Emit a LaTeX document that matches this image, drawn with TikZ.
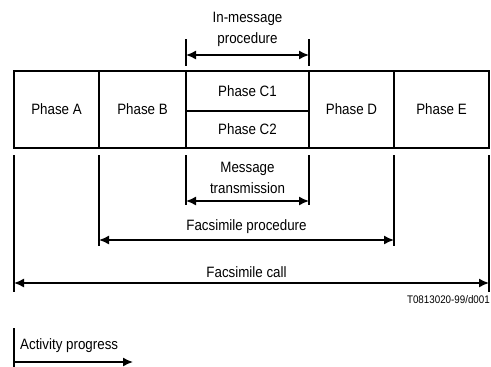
\documentclass[tikz,border=0pt]{standalone}
\usepackage{fontspec}
\setmainfont[FakeStretch=0.89]{Liberation Sans}
\usetikzlibrary{arrows.meta}
\usetikzlibrary{positioning}

\begin{document}
\begin{tikzpicture}[x=1pt,y=-1pt,
	phase/.style={draw,line width=1.5pt,outer sep=0pt,inner sep=0pt,minimum height=77pt,font=\fontsize{15}{21}\selectfont},
	ext/.style={line width=1.5pt},
	dim/.style={line width=1.5pt,{Latex[length=10pt,width=9pt]}-{Latex[length=10pt,width=9pt]}},
	lbl/.style={align=center,inner sep=0pt,font=\fontsize{15}{21}\selectfont}]
	 \useasboundingbox (0,0) rectangle (491,367);
	 % phases
	 \node[phase,minimum width=85pt,anchor=north west] (A) at (14,71) {Phase A};
	 \node[phase,minimum width=87pt,right=0pt of A] (B) {Phase B};
	 \node[phase,minimum width=123pt,minimum height=40pt,anchor=north west] (C1) at (B.north east) {Phase C1};
	 \node[phase,minimum width=123pt,minimum height=37pt,below=0pt of C1] (C2) {Phase C2};
	 \node[phase,minimum width=85pt,anchor=north west] (D) at (C1.north east) {Phase D};
	 \node[phase,minimum width=95pt,right=0pt of D] (E) {Phase E};
	 % extension lines
	 \foreach \x in {186,309} \draw[ext] (\x,39) -- (\x,66);
	 \foreach \x/\y in {14/292,99/246,186/205,309/205,394/246,489/292} \draw[ext] (\x,155) -- (\x,\y);
	 % spans
	 \coordinate (ip-l) at (186,55);
	 \coordinate (ip-r) at (309,55);
	 \draw[dim] (ip-l) -- (ip-r);
	 \node[lbl] (inmsg) at (247.5,29) {In-message\\procedure};
	 \coordinate (mt-l) at (186,201);
	 \coordinate (mt-r) at (309,201);
	 \draw[dim] (mt-l) -- (mt-r);
	 \node[lbl] (msgtx) at (247.5,178) {Message\\transmission};
	 \coordinate (fp-l) at (99,240);
	 \coordinate (fp-r) at (394,240);
	 \draw[dim] (fp-l) -- (fp-r);
	 \node[lbl] (faxproc) at (246.5,227) {Facsimile procedure};
	 \coordinate (fc-l) at (14,283);
	 \coordinate (fc-r) at (489,283);
	 \draw[dim] (fc-l) -- (fc-r);
	 \node[lbl] (faxcall) at (246.5,272) {Facsimile call};
	 \node[lbl,anchor=east,font=\fontsize{11}{13}\selectfont] (ref) at (490,300) {T0813020-99/d001};
	 % legend
	 \draw[ext] (14,328) -- (14,367);
	 \node[lbl,anchor=west] (progress) at (20,346) {Activity progress};
	 \coordinate (ap-l) at (14,362);
	 \coordinate (ap-r) at (133,362);
	 \draw[ext,-{Latex[length=10pt,width=9pt]}] (ap-l) -- (ap-r);
	 \end{tikzpicture}
\end{document}
